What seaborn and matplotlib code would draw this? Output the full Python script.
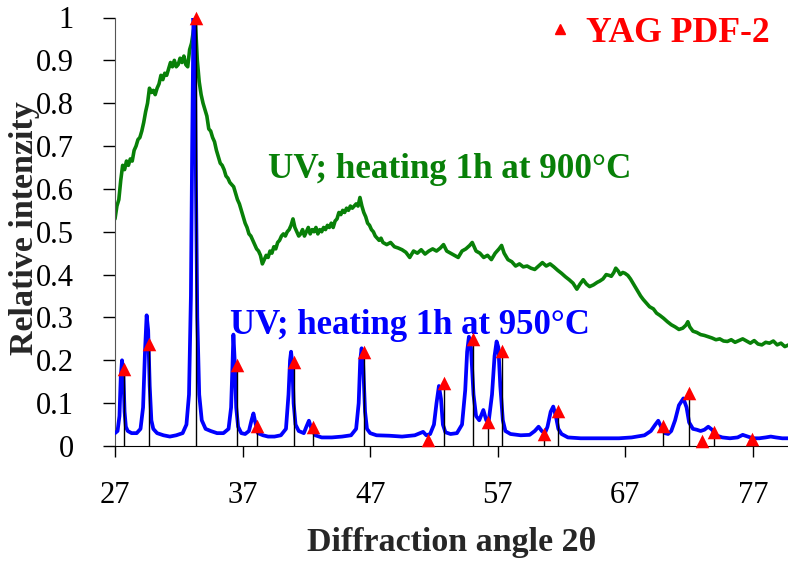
"""plot.py - XRD patterns of UV-treated samples with YAG PDF-2 reference lines."""
import matplotlib
matplotlib.use("Agg")
import matplotlib.pyplot as plt
import seaborn as sns
import pandas as pd
from matplotlib.lines import Line2D
from matplotlib.ticker import FuncFormatter

# sample heated 1h at 900 C (green, amorphous-looking)
green_x = [27.0, 27.15, 27.3, 27.45, 27.6, 27.75, 27.9, 28.05, 28.2, 28.35, 28.5, 28.65,
           28.8, 28.95, 29.1, 29.25, 29.4, 29.55, 29.7, 29.85, 30.0, 30.15, 30.3, 30.45,
           30.6, 30.75, 30.9, 31.05, 31.2, 31.35, 31.5, 31.65, 31.8, 31.95, 32.1, 32.25,
           32.4, 32.55, 32.7, 32.85, 33.0, 33.15, 33.3, 33.45, 33.6, 33.75, 33.9, 34.05,
           34.2, 34.35, 34.5, 34.65, 34.8, 34.95, 35.1, 35.25, 35.4, 35.55, 35.7, 35.85,
           36.0, 36.15, 36.3, 36.45, 36.6, 36.75, 36.9, 37.05, 37.2, 37.35, 37.5, 37.65,
           37.8, 37.95, 38.1, 38.25, 38.4, 38.55, 38.7, 38.85, 39.0, 39.15, 39.3, 39.45,
           39.6, 39.75, 39.9, 40.05, 40.2, 40.35, 40.5, 40.65, 40.8, 40.95, 41.1, 41.25,
           41.4, 41.55, 41.7, 41.85, 42.0, 42.15, 42.3, 42.45, 42.6, 42.75, 42.9, 43.05,
           43.2, 43.35, 43.5, 43.65, 43.8, 43.95, 44.1, 44.25, 44.4, 44.55, 44.7, 44.85,
           45.0, 45.15, 45.3, 45.45, 45.6, 45.75, 45.9, 46.05, 46.2, 46.35, 46.5, 46.65,
           46.8, 46.95, 47.1, 47.25, 47.4, 47.55, 47.7, 47.85, 48.0, 48.3, 48.6, 48.9,
           49.2, 49.5, 49.8, 50.1, 50.4, 50.7, 51.0, 51.3, 51.6, 51.9, 52.2, 52.5,
           52.75, 53.0, 53.3, 53.6, 53.9, 54.2, 54.5, 54.8, 55.0, 55.3, 55.6, 55.9,
           56.2, 56.5, 56.8, 57.1, 57.3, 57.5, 57.8, 58.1, 58.4, 58.7, 59.0, 59.3,
           59.6, 59.9, 60.2, 60.5, 60.8, 61.1, 61.4, 61.7, 62.0, 62.3, 62.6, 62.9,
           63.2, 63.45, 63.7, 63.95, 64.2, 64.5, 64.8, 65.0, 65.25, 65.5, 65.75, 65.9,
           66.1, 66.25, 66.45, 66.6, 66.8, 66.97, 67.2, 67.4, 67.6, 67.8, 68.0, 68.2,
           68.4, 68.66, 68.9, 69.2, 69.45, 69.7, 70.0, 70.3, 70.6, 70.9, 71.2, 71.5,
           71.75, 71.9, 72.05, 72.3, 72.6, 72.9, 73.2, 73.5, 73.8, 74.1, 74.4, 74.7,
           75.0, 75.3, 75.6, 75.9, 76.2, 76.5, 76.8, 77.1, 77.4, 77.7, 78.0, 78.3,
           78.6, 78.9, 79.2, 79.5, 79.8]
green_y = [0.53, 0.56, 0.575, 0.62, 0.655, 0.645, 0.665, 0.655, 0.67, 0.665, 0.69, 0.70,
           0.715, 0.72, 0.735, 0.755, 0.78, 0.80, 0.835, 0.825, 0.83, 0.82, 0.835, 0.845,
           0.865, 0.855, 0.87, 0.865, 0.88, 0.895, 0.885, 0.90, 0.885, 0.89, 0.905, 0.895,
           0.91, 0.89, 0.885, 0.925, 0.94, 0.97, 0.99, 0.90, 0.85, 0.82, 0.80, 0.785,
           0.77, 0.74, 0.735, 0.72, 0.71, 0.69, 0.675, 0.66, 0.655, 0.645, 0.63, 0.625,
           0.615, 0.61, 0.605, 0.59, 0.575, 0.565, 0.55, 0.535, 0.52, 0.51, 0.495, 0.49,
           0.48, 0.47, 0.46, 0.455, 0.445, 0.425, 0.435, 0.445, 0.44, 0.455, 0.45, 0.465,
           0.46, 0.475, 0.48, 0.49, 0.495, 0.49, 0.50, 0.505, 0.515, 0.53, 0.51, 0.50,
           0.49, 0.495, 0.505, 0.49, 0.50, 0.51, 0.495, 0.505, 0.50, 0.51, 0.495, 0.505,
           0.50, 0.51, 0.505, 0.515, 0.51, 0.52, 0.51, 0.525, 0.53, 0.545, 0.54, 0.55,
           0.545, 0.555, 0.55, 0.56, 0.555, 0.56, 0.565, 0.56, 0.58, 0.56, 0.545, 0.535,
           0.52, 0.515, 0.505, 0.50, 0.49, 0.485, 0.48, 0.485, 0.475, 0.47, 0.475, 0.465,
           0.462, 0.458, 0.452, 0.44, 0.455, 0.45, 0.458, 0.448, 0.455, 0.46, 0.455, 0.462,
           0.47, 0.455, 0.45, 0.445, 0.44, 0.455, 0.46, 0.468, 0.475, 0.455, 0.45, 0.44,
           0.445, 0.435, 0.45, 0.46, 0.468, 0.45, 0.435, 0.43, 0.42, 0.425, 0.418, 0.42,
           0.415, 0.412, 0.42, 0.428, 0.42, 0.425, 0.418, 0.41, 0.403, 0.395, 0.388, 0.38,
           0.366, 0.378, 0.388, 0.378, 0.372, 0.376, 0.382, 0.385, 0.39, 0.40, 0.398, 0.396,
           0.405, 0.415, 0.408, 0.40, 0.405, 0.403, 0.398, 0.39, 0.38, 0.37, 0.36, 0.35,
           0.342, 0.333, 0.325, 0.32, 0.31, 0.305, 0.298, 0.29, 0.283, 0.278, 0.272, 0.275,
           0.282, 0.29, 0.278, 0.268, 0.265, 0.26, 0.258, 0.255, 0.252, 0.248, 0.25, 0.245,
           0.244, 0.248, 0.242, 0.246, 0.25, 0.245, 0.24, 0.246, 0.238, 0.236, 0.242, 0.24,
           0.245, 0.236, 0.24, 0.232, 0.236]

# sample heated 1h at 950 C (blue, crystalline YAG)
blue_x = [27.0, 27.2, 27.35, 27.45, 27.55, 27.65, 27.75, 27.85, 28.0, 28.3, 28.7, 29.0,
          29.2, 29.35, 29.48, 29.6, 29.72, 29.85, 30.0, 30.3, 30.8, 31.3, 31.8, 32.3,
          32.6, 32.8, 32.95, 33.05, 33.15, 33.25, 33.35, 33.45, 33.6, 33.8, 34.1, 34.5,
          35.0, 35.5, 35.9, 36.1, 36.2, 36.28, 36.38, 36.5, 36.65, 36.9, 37.2, 37.5,
          37.7, 37.85, 38.0, 38.2, 38.6, 39.0, 39.5, 40.0, 40.4, 40.6, 40.72, 40.8,
          40.9, 41.0, 41.15, 41.4, 41.8, 42.0, 42.2, 42.4, 42.7, 43.2, 44.0, 44.8,
          45.5, 45.9, 46.1, 46.22, 46.33, 46.45, 46.6, 46.75, 47.0, 47.5, 48.5, 49.5,
          50.5, 50.9, 51.15, 51.4, 51.7, 52.0, 52.2, 52.39, 52.55, 52.7, 52.9, 53.3,
          53.8, 54.2, 54.45, 54.6, 54.74, 54.9, 55.1, 55.3, 55.55, 55.87, 56.1, 56.3,
          56.55, 56.75, 56.91, 57.05, 57.2, 57.4, 57.6, 58.0, 58.8, 59.5, 59.9, 60.2,
          60.45, 60.7, 60.9, 61.15, 61.35, 61.55, 61.75, 62.0, 62.5, 63.5, 64.5, 65.5,
          66.5, 67.5, 68.5, 69.0, 69.35, 69.58, 69.8, 70.1, 70.35, 70.6, 70.9, 71.2,
          71.55, 71.8, 72.0, 72.3, 72.6, 72.9, 73.2, 73.5, 73.8, 74.1, 74.6, 75.2,
          75.8, 76.2, 76.6, 77.0, 77.5, 78.0, 78.4, 78.8, 79.3, 79.8]
blue_y = [0.03, 0.035, 0.07, 0.16, 0.20, 0.17, 0.08, 0.045, 0.035, 0.03, 0.03, 0.04,
          0.09, 0.22, 0.305, 0.27, 0.14, 0.06, 0.04, 0.03, 0.025, 0.022, 0.025, 0.03,
          0.05, 0.12, 0.35, 0.70, 1.0, 0.95, 0.60, 0.30, 0.12, 0.06, 0.04, 0.035,
          0.03, 0.03, 0.04, 0.09, 0.18, 0.26, 0.20, 0.09, 0.045, 0.03, 0.028, 0.035,
          0.06, 0.076, 0.055, 0.03, 0.025, 0.022, 0.022, 0.025, 0.04, 0.12, 0.20, 0.22,
          0.19, 0.10, 0.05, 0.035, 0.03, 0.045, 0.059, 0.04, 0.025, 0.02, 0.02, 0.022,
          0.025, 0.04, 0.10, 0.20, 0.228, 0.19, 0.08, 0.04, 0.03, 0.025, 0.024, 0.022,
          0.025, 0.03, 0.033, 0.025, 0.028, 0.05, 0.10, 0.14, 0.11, 0.05, 0.032, 0.028,
          0.03, 0.05, 0.13, 0.22, 0.255, 0.23, 0.12, 0.07, 0.06, 0.084, 0.06, 0.06,
          0.12, 0.21, 0.244, 0.23, 0.14, 0.06, 0.035, 0.028, 0.025, 0.026, 0.035, 0.045,
          0.035, 0.03, 0.045, 0.08, 0.092, 0.07, 0.04, 0.028, 0.02, 0.018, 0.018, 0.018,
          0.018, 0.02, 0.025, 0.035, 0.05, 0.059, 0.045, 0.03, 0.028, 0.035, 0.06, 0.095,
          0.111, 0.09, 0.055, 0.04, 0.038, 0.035, 0.038, 0.045, 0.038, 0.025, 0.02, 0.018,
          0.02, 0.026, 0.022, 0.018, 0.018, 0.02, 0.022, 0.02, 0.018, 0.018]

# YAG PDF-2 reference lines
pdf_x = [27.74, 29.69, 33.32, 36.54, 38.1, 41.05, 42.49, 46.54, 51.55, 52.76, 55.03,
         56.21, 57.33, 60.62, 61.72, 69.97, 71.98, 72.98, 73.97, 76.95]
pdf_y = [0.18, 0.238, 1.0, 0.19, 0.047, 0.196, 0.045, 0.219, 0.014, 0.148, 0.249,
         0.057, 0.222, 0.027, 0.082, 0.047, 0.123, 0.012, 0.033, 0.017]

y_ticks = [0, 0.1, 0.2, 0.3, 0.4, 0.5, 0.6, 0.7, 0.8, 0.9, 1.0]
x_ticks = [27, 37, 47, 57, 67, 77]

GREEN = "#088008"
BLUE = "#0000ff"
RED = "#ff0000"

sns.set_style("ticks")
plt.rcParams["font.family"] = ["Liberation Serif", "DejaVu Serif"]

green_df = pd.DataFrame({"angle": green_x, "intensity": green_y})
blue_df = pd.DataFrame({"angle": blue_x, "intensity": blue_y})
pdf_df = pd.DataFrame({"angle": pdf_x, "intensity": pdf_y})

fig = plt.figure(figsize=(7.88, 5.61), dpi=100)
ax = fig.add_axes([115 / 788, 1 - 446 / 561, 1 - 115 / 788, (446 - 17.5) / 561])

sns.lineplot(data=green_df, x="angle", y="intensity", color=GREEN, lw=2.6,
             ax=ax, zorder=2, sort=False)
sns.lineplot(data=blue_df, x="angle", y="intensity", color=BLUE, lw=2.7,
             ax=ax, zorder=3, sort=False)
ax.vlines(pdf_df["angle"], 0, pdf_df["intensity"], color="black", lw=1.0, zorder=4)
sns.scatterplot(data=pdf_df, x="angle", y="intensity", marker="^", s=95,
                color=RED, edgecolor=RED, linewidth=0, ax=ax, zorder=5, clip_on=False)

ax.set_xlim(27, 79.75)
ax.set_ylim(0, 1.0)
ax.set_xticks(x_ticks)
ax.set_yticks(y_ticks)
ax.yaxis.set_major_formatter(FuncFormatter(lambda v, _: f"{v:g}"))
ax.tick_params(axis="x", direction="out", length=8, width=1, pad=17,
               labelsize=22, colors="black")
ax.tick_params(axis="y", direction="out", length=8.5, width=1, pad=21,
               labelsize=22, colors="black")
for side in ["top", "right"]:
    ax.spines[side].set_visible(False)
ax.spines["left"].set_color("#555555")
ax.spines["bottom"].set_color("black")

ax.set_xlabel("Diffraction angle 2θ", fontsize=24.5, fontweight="bold")
ax.set_ylabel("Relative intenzity", fontsize=24.5, fontweight="bold")
ax.xaxis.set_label_coords(0.5, -0.19)
ax.yaxis.set_label_coords(-0.111, 0.509)

ax.text(39.0, 0.625, "UV; heating 1h at 900°C", color=GREEN, fontsize=25.3,
        fontweight="bold", ha="left", va="baseline")
ax.text(36.0, 0.261, "UV; heating 1h at 950°C", color=BLUE, fontsize=25,
        fontweight="bold", ha="left", va="baseline")

handle = Line2D([], [], marker="^", color=RED, ls="none", markersize=7)
leg = ax.legend([handle], ["YAG PDF-2"], loc="center right",
                bbox_to_anchor=(770 / 788, 1 - 33 / 561), bbox_transform=fig.transFigure,
                frameon=False, borderpad=0, borderaxespad=0, handletextpad=0.25,
                handlelength=1.0, prop={"size": 25.7, "weight": "bold"})
for t in leg.get_texts():
    t.set_color(RED)

fig.savefig("out.png", dpi=100)
plt.close(fig)
